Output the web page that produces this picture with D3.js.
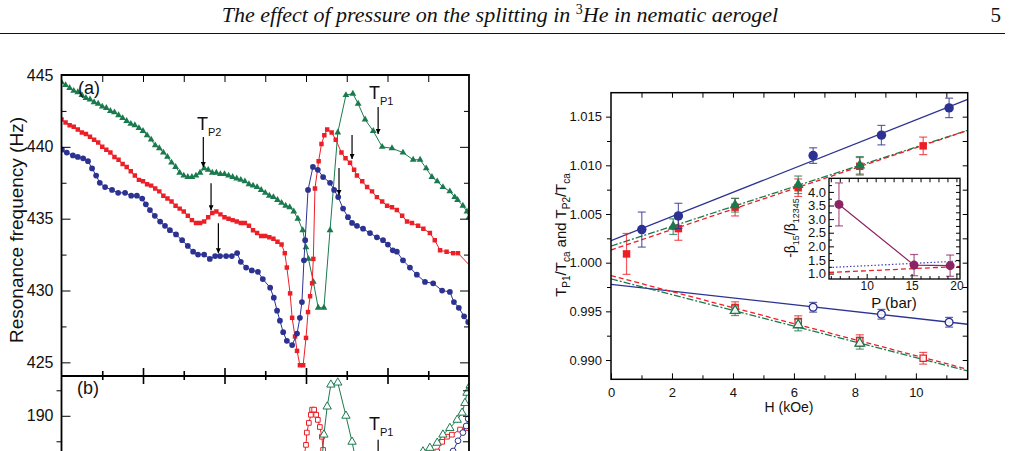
<!DOCTYPE html>
<html>
<head>
<meta charset="utf-8">
<script src="https://cdn.jsdelivr.net/npm/d3@7"></script>
<style>
  body { margin: 0; background: #fff; }
  text { fill: #111; }
</style>
</head>
<body>
<script>
// ---------- data: panel (a), resonance frequency (Hz) vs. sweep position ----------
const greenA = [[0,444.5],[0.1,444.3],[0.2,444.1],[0.3,443.9],[0.4,443.8],[0.5,443.6],[0.6,443.4],[0.7,443.3],[0.8,443.1],[0.9,443.0],
  [1.0,442.8],[1.1,442.7],[1.2,442.5],[1.3,442.4],[1.4,442.2],[1.5,442.0],[1.6,441.8],[1.7,441.6],[1.8,441.5],[1.9,441.3],
  [2.0,441.1],[2.1,440.8],[2.2,440.5],[2.3,440.1],[2.4,439.9],[2.5,439.6],[2.6,439.3],[2.7,438.9],[2.8,438.6],[2.9,438.2],
  [3.0,438.0],[3.1,437.9],[3.2,437.9],[3.3,438.0],[3.4,438.2],[3.5,438.5],[3.6,438.4],[3.7,438.2],[3.8,438.2],[3.9,438.1],
  [4.0,438.1],[4.1,438.0],[4.2,437.9],[4.3,437.8],[4.4,437.7],[4.5,437.6],[4.6,437.4],[4.7,437.3],[4.8,437.2],[4.9,437.0],
  [5.0,436.8],[5.1,436.6],[5.2,436.5],[5.3,436.3],[5.4,436.1],[5.5,435.9],[5.6,435.8],[5.7,435.5],[5.8,435.0],[5.92,434.2],
  [6.0,433.0],[6.06,432.2],[6.18,430.6],[6.3,428.8],[6.44,428.8],[6.59,434.2],[6.78,441.0],[6.98,443.6],[7.15,443.7],[7.28,443.0],
  [7.45,441.9],[7.65,441.1],[7.87,440.0],[8.11,439.9],[8.38,439.6],[8.63,439.1],[8.8,439.1],[8.95,438.5],[9.09,437.9],[9.22,437.6],
  [9.36,437.2],[9.53,436.9],[9.65,436.5],[9.72,436.3],[9.85,435.9],[9.95,435.5],[10.0,435.1]];

const redA = [[0,441.9],[0.1,441.7],[0.2,441.5],[0.3,441.4],[0.4,441.2],[0.5,441.0],[0.6,440.9],[0.7,440.7],[0.8,440.5],[0.9,440.3],
  [1.0,440.0],[1.1,439.8],[1.2,439.6],[1.3,439.3],[1.4,439.1],[1.5,438.8],[1.6,438.6],[1.7,438.3],[1.8,438.0],[1.9,437.7],
  [2.0,437.6],[2.1,437.4],[2.2,437.3],[2.3,437.1],[2.4,436.9],[2.5,436.6],[2.6,436.4],[2.7,436.2],[2.8,435.9],[2.9,435.7],
  [3.0,435.5],[3.1,435.2],[3.2,434.9],[3.3,434.7],[3.4,434.7],[3.5,434.8],[3.6,435.1],[3.7,435.4],[3.8,435.5],[3.9,435.3],
  [4.0,435.1],[4.1,435.0],[4.2,434.9],[4.3,434.8],[4.4,434.7],[4.5,434.7],[4.6,434.5],[4.7,434.2],[4.8,434.0],[4.9,433.8],
  [5.0,433.8],[5.1,433.7],[5.2,433.6],[5.3,433.4],[5.4,433.2],[5.48,432.6],[5.53,431.6],[5.61,429.8],[5.66,428.1],[5.73,426.8],
  [5.78,425.8],[5.85,424.8],[5.93,424.8],[6.0,426.7],[6.05,428.5],[6.1,429.6],[6.15,430.5],[6.18,432.2],[6.22,437.1],[6.31,439.0],
  [6.38,440.2],[6.45,440.8],[6.52,441.2],[6.63,441.0],[6.73,440.5],[6.87,439.6],[6.97,439.2],[7.08,438.9],[7.18,438.4],[7.25,438.0],
  [7.38,437.6],[7.5,437.2],[7.62,436.9],[7.74,436.5],[7.87,436.2],[7.99,435.9],[8.11,435.8],[8.23,435.6],[8.36,435.2],[8.48,434.8],
  [8.6,434.7],[8.75,434.5],[8.88,434.3],[9.04,434.0],[9.16,433.5],[9.29,432.8],[9.45,432.7],[9.61,432.6],[9.73,432.6],[10.2,431.2]];

const blueA = [[0.01,439.8],[0.13,439.6],[0.28,439.4],[0.40,439.3],[0.53,439.2],[0.65,439.0],[0.75,438.5],[0.85,438.0],[0.94,437.5],[1.07,437.2],
  [1.24,437.0],[1.39,436.8],[1.56,436.8],[1.71,436.6],[1.85,436.6],[1.98,436.4],[2.07,436.0],[2.17,435.6],[2.29,435.2],[2.42,434.8],
  [2.54,434.5],[2.66,434.2],[2.81,433.9],[2.96,433.5],[3.10,433.1],[3.23,432.7],[3.35,432.5],[3.50,432.5],[3.64,432.2],[3.77,432.4],
  [3.89,432.4],[4.04,432.4],[4.18,432.4],[4.31,432.6],[4.40,432.0],[4.53,431.6],[4.67,431.4],[4.82,431.3],[4.94,430.8],[5.12,430.2],
  [5.21,429.5],[5.29,428.6],[5.36,427.9],[5.44,427.1],[5.53,426.5],[5.66,426.2],[5.78,427.0],[5.85,428.1],[5.90,429.2],[5.95,432.1],
  [5.98,433.5],[6.05,437.0],[6.17,438.6],[6.29,438.4],[6.42,437.9],[6.59,437.5],[6.69,437.0],[6.79,436.5],[6.91,435.7],[7.03,435.1],
  [7.13,434.7],[7.25,434.5],[7.40,434.3],[7.57,434.0],[7.74,433.7],[7.89,433.5],[8.01,433.2],[8.13,432.8],[8.23,432.7],[8.38,432.1],
  [8.55,431.6],[8.72,431.1],[8.92,430.6],[9.12,430.5],[9.34,430.0],[9.53,429.9],[9.63,429.2],[9.75,428.8],[9.88,428.2],[9.98,427.8],
  [10.07,427.4]];

// ---------- data: panel (b), lower part, only the top of it is on the page ----------
const redB = [[5.93,181.0],[6.0,184.3],[6.02,186.7],[6.07,188.6],[6.12,190.2],[6.15,191.2],[6.2,191.2],[6.25,190.2],[6.29,189.2],
  [6.34,187.8],[6.39,185.9],[6.42,183.3],[6.46,180.5],[9.15,181.0],[9.22,183.0],[9.34,184.9],[9.46,185.9],[9.58,186.3],
  [9.78,187.3],[9.93,187.6],[10.07,187.9]];
const greenB = [[6.4,182.0],[6.44,186.3],[6.52,191.8],[6.61,196.1],[6.78,196.5],[6.98,190.0],[7.13,184.9],[7.23,181.0],
  [8.7,181.5],[8.87,183.0],[9.04,183.7],[9.22,184.7],[9.36,186.3],[9.53,187.6],[9.71,189.2],[9.83,190.6],[9.9,192.5],
  [9.95,194.5],[10.03,196.0]];
const blueB = [[9.5,181.0],[9.61,183.1],[9.73,185.1],[9.85,186.7],[9.93,188.0],[9.98,189.4],[10.07,191.0]];

// arrows in panel (a): [x, from, to]
const arrowsA = [[3.48,440.68,438.59],[3.67,437.47,435.59],[3.85,434.69,432.60],
  [7.77,442.77,440.89],[7.13,440.82,439.15],[6.81,438.52,436.64]];

// ---------- data: right panel, T/Tca vs H (kOe): [H, value, error] ----------
const tp1Blue  = [[1.01,1.0034,0.0018],[2.21,1.0048,0.0013],[6.63,1.0110,0.0008],[8.87,1.0131,0.0010],[11.09,1.0159,0.0010]];
const tp1Red   = [[0.51,1.0009,0.0021],[2.21,1.0035,0.0012],[4.07,1.0057,0.0009],[6.14,1.0077,0.0009],[8.16,1.0099,0.0009],[10.24,1.0120,0.0009]];
const tp1Green = [[2.04,1.0037,0.0008],[4.07,1.0059,0.0007],[6.14,1.0080,0.0009],[8.16,1.0100,0.0009]];
const tp2Blue  = [[6.63,0.99542,0.0005],[8.87,0.99470,0.0005],[11.09,0.99388,0.0005]];
const tp2Red   = [[4.07,0.99538,0.0006],[6.14,0.99394,0.0006],[8.16,0.99199,0.0006],[10.24,0.99018,0.0006]];
const tp2Green = [[4.07,0.99507,0.0005],[6.14,0.99360,0.0006],[8.16,0.99172,0.0006]];

// linear fits: [intercept, slope]
const fitBlue1 = [1.00226, 0.001241], fitGreen1 = [1.0017, 0.001017], fitRed1 = [1.0013, 0.00105];
const fitBlue2 = [0.99778, -0.000351], fitRed2 = [0.99867, -0.000822], fitGreen2 = [0.99833, -0.000808];

// inset: -beta15/beta12345 vs P (bar)
const insetP = [6.91, 15.28, 19.3];
const insetRatio = [3.54, 1.31, 1.29];
const insetErr = [0.79, 0.39, 0.39];
const insetBlueLine = [[5.8, 1.22], [20.4, 1.46]];
const insetRedLine = [[5.8, 1.04], [20.4, 1.26]];

// colours
const cGreen = "#1a7a4e", cRed = "#ec1f27", cBlue = "#2c3292", cPlum = "#8c2463";

const svg = d3.select("body").append("svg")
  .attr("width", 1010).attr("height", 451)
  .style("font-family", "'Liberation Sans', Arial, sans-serif");
const defs = svg.append("defs");

// ---------- page header ----------
const head = svg.append("text")
  .attr("x", 500).attr("y", 22).attr("text-anchor", "middle")
  .style("font-family", "'Liberation Serif', serif").style("font-style", "italic").style("font-size", "22px");
head.append("tspan").text("The effect of pressure on the splitting in ");
head.append("tspan").attr("dy", -8).style("font-style", "normal").style("font-size", "14px").text("3");
head.append("tspan").attr("dy", 8).text("He in nematic aerogel");
svg.append("text").attr("x", 1001).attr("y", 22).attr("text-anchor", "end")
  .style("font-family", "'Liberation Serif', serif").style("font-size", "21px").text("5");
svg.append("line").attr("x1", 0).attr("x2", 1005).attr("y1", 33.5).attr("y2", 33.5)
  .attr("stroke", "#111").attr("stroke-width", 1);

// arrow head
defs.append("marker").attr("id", "arr").attr("viewBox", "0 0 10 10")
  .attr("refX", 10).attr("refY", 5).attr("markerUnits", "userSpaceOnUse")
  .attr("markerWidth", 9).attr("markerHeight", 5).attr("orient", "auto")
  .append("path").attr("d", "M0,0L10,5L0,10z").attr("fill", "#000");

// ---------- left panel ----------
const xA = d3.scaleLinear().domain([0, 10]).range([61.5, 469]);
const yA = d3.scaleLinear().domain([424.05, 445]).range([376, 75]);
const yB = d3.scaleLinear().domain([180, 197.8]).range([466.8, 376]);

defs.append("clipPath").attr("id", "clipA").append("rect")
  .attr("x", xA(0)).attr("y", yA(445)).attr("width", xA(10) - xA(0)).attr("height", yA(424.05) - yA(445));
defs.append("clipPath").attr("id", "clipB").append("rect")
  .attr("x", xA(0)).attr("y", yB(197.8)).attr("width", xA(10) - xA(0)).attr("height", 100);

function noDomain(g) { g.select(".domain").remove(); }

function drawSeries(g, data, x, y, color, symbol, size, open) {
  g.append("path").datum(data)
    .attr("d", d3.line().x(d => x(d[0])).y(d => y(d[1])))
    .attr("fill", "none").attr("stroke", color).attr("stroke-width", 1);
  g.selectAll(null).data(data).enter().append("path")
    .attr("transform", d => `translate(${x(d[0])},${y(d[1])})`)
    .attr("d", d3.symbol().type(symbol).size(size))
    .attr("fill", open ? "#fff" : color)
    .attr("stroke", open ? color : "none").attr("stroke-width", 1);
}

const gA = svg.append("g").attr("clip-path", "url(#clipA)");
drawSeries(gA, greenA, xA, yA, cGreen, d3.symbolTriangle, 20, false);
drawSeries(gA, redA, xA, yA, cRed, d3.symbolSquare, 20, false);
drawSeries(gA, blueA, xA, yA, cBlue, d3.symbolCircle, 26, false);

const gB = svg.append("g").attr("clip-path", "url(#clipB)");
drawSeries(gB, redB, xA, yB, cRed, d3.symbolSquare, 22, true);
drawSeries(gB, greenB, xA, yB, cGreen, d3.symbolTriangle, 30, true);
drawSeries(gB, blueB, xA, yB, cBlue, d3.symbolCircle, 26, true);

// axes of (a)
svg.append("g").attr("transform", `translate(${xA(0)},0)`)
  .call(d3.axisLeft(yA).tickValues([425, 430, 435, 440, 445]).tickSizeInner(-9).tickSizeOuter(0).tickPadding(8))
  .call(noDomain).style("font-size", "16px");
svg.append("g").attr("transform", `translate(${xA(0)},0)`)
  .call(d3.axisLeft(yA).tickValues([427.5, 432.5, 437.5, 442.5]).tickSize(-5).tickFormat(""))
  .call(noDomain);
svg.append("g").attr("transform", `translate(${xA(10)},0)`)
  .call(d3.axisRight(yA).tickValues([425, 430, 435, 440]).tickSize(-9).tickFormat(""))
  .call(noDomain);
svg.append("g").attr("transform", `translate(${xA(10)},0)`)
  .call(d3.axisRight(yA).tickValues([427.5, 432.5, 437.5, 442.5]).tickSize(-5).tickFormat(""))
  .call(noDomain);
svg.append("g").attr("transform", `translate(0,${yA(445)})`)
  .call(d3.axisTop(xA).tickValues(d3.range(1, 10)).tickSize(-7).tickFormat(""))
  .call(noDomain);
// divider between (a) and (b)
const divY = yA(424.05);
[[d3.axisBottom, [2, 4, 6, 8], 8], [d3.axisTop, [2, 4, 6, 8], 8], [d3.axisBottom, [1, 3, 5, 7, 9], 4], [d3.axisTop, [1, 3, 5, 7, 9], 5]]
  .forEach(([ax, vals, len]) => {
    svg.append("g").attr("transform", `translate(0,${divY})`)
      .call(ax(xA).tickValues(vals).tickSize(len).tickFormat(""))
      .call(noDomain).selectAll("line").attr("stroke-width", 1.6);
  });
svg.append("line").attr("x1", xA(0)).attr("x2", xA(10)).attr("y1", divY).attr("y2", divY)
  .attr("stroke", "#000").attr("stroke-width", 2.2);
// axes of (b)
svg.append("g").attr("transform", `translate(${xA(0)},0)`)
  .call(d3.axisLeft(yB).tickValues([190]).tickSizeInner(-9).tickSizeOuter(0).tickPadding(8))
  .call(noDomain).style("font-size", "16px");
svg.append("g").attr("transform", `translate(${xA(0)},0)`)
  .call(d3.axisLeft(yB).tickValues([185, 195]).tickSize(5).tickFormat(""))
  .call(noDomain);
svg.append("g").attr("transform", `translate(${xA(10)},0)`)
  .call(d3.axisRight(yB).tickValues([185, 190, 195]).tickSize(-6).tickFormat(""))
  .call(noDomain);
// frame of left panel
svg.append("path")
  .attr("d", `M${xA(0)},451V${yA(445)}H${xA(10)}V451`)
  .attr("fill", "none").attr("stroke", "#000").attr("stroke-width", 1.8);

// arrows and labels in (a)/(b)
svg.append("g").selectAll("line").data(arrowsA).enter().append("line")
  .attr("x1", d => xA(d[0])).attr("x2", d => xA(d[0]))
  .attr("y1", d => yA(d[1])).attr("y2", d => yA(d[2]))
  .attr("stroke", "#000").attr("stroke-width", 1.2).attr("marker-end", "url(#arr)");
svg.append("line").attr("x1", xA(7.77)).attr("x2", xA(7.77))
  .attr("y1", yB(185.3)).attr("y2", yB(180)).attr("stroke", "#000").attr("stroke-width", 1.2)
  .attr("clip-path", "url(#clipB)");

function subText(parent, x, y, parts, size, subSize, shift, rotate) {
  const t = parent.append("text").attr("x", x).attr("y", y).style("font-size", size + "px");
  if (rotate) t.attr("transform", `rotate(-90,${x},${y})`).attr("text-anchor", "middle");
  let cur = 0;
  parts.forEach(([s, kind]) => {
    const target = kind === 1 ? shift : 0;
    t.append("tspan").attr("dy", target - cur)
      .style("font-size", (kind === 1 ? subSize : size) + "px").text(s);
    cur = target;
  });
  return t;
}

svg.append("text").attr("x", 78).attr("y", 94).style("font-size", "18px").text("(a)");
svg.append("text").attr("x", 77).attr("y", 394).style("font-size", "18px").text("(b)");
subText(svg, 197, 130, [["T", 0], ["P2", 1]], 18, 11, 6);
subText(svg, 369, 99, [["T", 0], ["P1", 1]], 18, 11, 6);
subText(svg, 369, 430, [["T", 0], ["P1", 1]], 18, 11, 6);
svg.append("text").attr("transform", "translate(23,230) rotate(-90)").attr("text-anchor", "middle")
  .style("font-size", "19px").text("Resonance frequency (Hz)");

// ---------- right panel ----------
const xR = d3.scaleLinear().domain([0, 11.7]).range([611, 967.7]);
const yR = d3.scaleLinear().domain([0.98802, 1.01746]).range([379.3, 92.7]);
const gR = svg.append("g");
defs.append("clipPath").attr("id", "clipR").append("rect")
  .attr("x", xR(0)).attr("y", yR(1.01746)).attr("width", xR(11.7) - xR(0)).attr("height", yR(0.98802) - yR(1.01746));

const fits = [[fitBlue1, cBlue, null], [fitGreen1, cGreen, "7,2,2,2"], [fitRed1, cRed, "5,3"],
  [fitBlue2, cBlue, null], [fitGreen2, cGreen, "7,2,2,2"], [fitRed2, cRed, "5,3"]];
const fitLine = d3.line().x(d => xR(d[0])).y(d => yR(d[1]));
fits.forEach(([f, col, dash]) => {
  gR.append("path").datum([0, 11.7].map(h => [h, f[0] + f[1] * h]))
    .attr("d", fitLine).attr("fill", "none").attr("stroke", col).attr("stroke-width", 1.3)
    .attr("stroke-dasharray", dash).attr("clip-path", "url(#clipR)");
});

function errPoints(g, data, x, y, color, symbol, size, open) {
  const e = g.append("g").attr("stroke", color).attr("stroke-opacity", 0.75).attr("stroke-width", 1.2);
  data.forEach(d => {
    const x0 = x(d[0]), y1 = y(d[1] + d[2]), y2 = y(d[1] - d[2]);
    e.append("line").attr("x1", x0).attr("x2", x0).attr("y1", y1).attr("y2", y2);
    e.append("line").attr("x1", x0 - 4).attr("x2", x0 + 4).attr("y1", y1).attr("y2", y1);
    e.append("line").attr("x1", x0 - 4).attr("x2", x0 + 4).attr("y1", y2).attr("y2", y2);
  });
  g.selectAll(null).data(data).enter().append("path")
    .attr("transform", d => `translate(${x(d[0])},${y(d[1])})`)
    .attr("d", d3.symbol().type(symbol).size(size))
    .attr("fill", open ? "#fff" : color).attr("fill-opacity", open ? 0.9 : 1)
    .attr("stroke", open ? color : "none").attr("stroke-width", 1.3);
}
errPoints(gR, tp1Red, xR, yR, cRed, d3.symbolSquare, 56, false);
errPoints(gR, tp1Green, xR, yR, cGreen, d3.symbolTriangle, 50, false);
errPoints(gR, tp1Blue, xR, yR, cBlue, d3.symbolCircle, 70, false);
errPoints(gR, tp2Red, xR, yR, cRed, d3.symbolSquare, 40, true);
errPoints(gR, tp2Green, xR, yR, cGreen, d3.symbolTriangle, 40, true);
errPoints(gR, tp2Blue, xR, yR, cBlue, d3.symbolCircle, 48, true);

// axes of right panel
const yMaj = [0.990, 0.995, 1.000, 1.005, 1.010, 1.015];
const yMin = [0.9925, 0.9975, 1.0025, 1.0075, 1.0125];
svg.append("g").attr("transform", `translate(0,${yR(0.98802)})`)
  .call(d3.axisBottom(xR).tickValues([0, 2, 4, 6, 8, 10]).tickSizeInner(-6).tickSizeOuter(0).tickPadding(8))
  .call(noDomain).style("font-size", "13px");
svg.append("g").attr("transform", `translate(0,${yR(0.98802)})`)
  .call(d3.axisBottom(xR).tickValues([1, 3, 5, 7, 9, 11]).tickSize(-4).tickFormat("")).call(noDomain);
svg.append("g").attr("transform", `translate(0,${yR(1.01746)})`)
  .call(d3.axisTop(xR).tickValues(d3.range(1, 12)).tickSize(-5).tickFormat("")).call(noDomain);
svg.append("g").attr("transform", `translate(${xR(0)},0)`)
  .call(d3.axisLeft(yR).tickValues(yMaj).tickSizeInner(5).tickSizeOuter(0).tickPadding(4).tickFormat(d3.format(".3f")))
  .call(noDomain).style("font-size", "13px");
svg.append("g").attr("transform", `translate(${xR(0)},0)`)
  .call(d3.axisLeft(yR).tickValues(yMin).tickSize(4).tickFormat("")).call(noDomain);
svg.append("g").attr("transform", `translate(${xR(11.7)},0)`)
  .call(d3.axisRight(yR).tickValues(yMaj.concat(yMin)).tickSize(-5).tickFormat("")).call(noDomain);
svg.append("rect").attr("x", xR(0)).attr("y", yR(1.01746))
  .attr("width", xR(11.7) - xR(0)).attr("height", yR(0.98802) - yR(1.01746))
  .attr("fill", "none").attr("stroke", "#000").attr("stroke-width", 1.5);

svg.append("text").attr("x", 789).attr("y", 412).attr("text-anchor", "middle").style("font-size", "14px").text("H (kOe)");
subText(svg, 566, 235, [["T", 0], ["P1", 1], ["/T", 0], ["ca", 1], [" and T", 0], ["P2", 1], ["/T", 0], ["ca", 1]], 15, 10, 4, true);

// ---------- inset ----------
const xI = d3.scaleLinear().domain([5.8, 20.4]).range([829, 960]);
const yI = d3.scaleLinear().domain([0.8, 4.5]).range([279, 178.3]);
const gI = svg.append("g");
gI.append("rect").attr("x", xI(5.8)).attr("y", yI(4.5)).attr("width", xI(20.4) - xI(5.8)).attr("height", yI(0.8) - yI(4.5))
  .attr("fill", "#fff");
const lineI = d3.line().x(d => xI(d[0])).y(d => yI(d[1]));
gI.append("path").datum(insetBlueLine).attr("d", lineI).attr("fill", "none")
  .attr("stroke", "#3a43b8").attr("stroke-width", 1.2).attr("stroke-dasharray", "1.5,2");
gI.append("path").datum(insetRedLine).attr("d", lineI).attr("fill", "none")
  .attr("stroke", cRed).attr("stroke-width", 1.3).attr("stroke-dasharray", "5,3");
const insetPts = insetP.map((p, i) => [p, insetRatio[i], insetErr[i]]);
gI.append("path").datum(insetPts).attr("d", lineI).attr("fill", "none").attr("stroke", cPlum).attr("stroke-width", 1.2);
errPoints(gI, insetPts, xI, yI, cPlum, d3.symbolCircle, 64, false);

svg.append("g").attr("transform", `translate(0,${yI(0.8)})`)
  .call(d3.axisBottom(xI).tickValues([10, 15, 20]).tickSizeInner(-5).tickSizeOuter(0).tickPadding(2))
  .call(noDomain).style("font-size", "12px");
svg.append("g").attr("transform", `translate(0,${yI(0.8)})`)
  .call(d3.axisBottom(xI).tickValues(d3.range(6, 21).filter(v => v % 5)).tickSize(-3).tickFormat("")).call(noDomain);
svg.append("g").attr("transform", `translate(0,${yI(4.5)})`)
  .call(d3.axisTop(xI).tickValues(d3.range(6, 21)).tickSize(-4).tickFormat("")).call(noDomain);
svg.append("g").attr("transform", `translate(${xI(5.8)},0)`)
  .call(d3.axisLeft(yI).tickValues(d3.range(1, 4.01, 0.5)).tickSizeInner(-5).tickSizeOuter(0).tickPadding(3).tickFormat(d3.format(".1f")))
  .call(noDomain).style("font-size", "13px");
svg.append("g").attr("transform", `translate(${xI(5.8)},0)`)
  .call(d3.axisLeft(yI).tickValues(d3.range(1.25, 4.5, 0.5)).tickSize(-3).tickFormat("")).call(noDomain);
svg.append("g").attr("transform", `translate(${xI(20.4)},0)`)
  .call(d3.axisRight(yI).tickValues(d3.range(1, 4.5, 0.25)).tickSize(-4).tickFormat("")).call(noDomain);
svg.append("rect").attr("x", xI(5.8)).attr("y", yI(4.5)).attr("width", xI(20.4) - xI(5.8)).attr("height", yI(0.8) - yI(4.5))
  .attr("fill", "none").attr("stroke", "#000").attr("stroke-width", 1.3);
svg.append("text").attr("x", 894).attr("y", 308).attr("text-anchor", "middle").style("font-size", "15px").text("P (bar)");
subText(svg, 795, 228, [["-\u03b2", 0], ["15", 1], ["/\u03b2", 0], ["12345", 1]], 14, 9, 4, true);
</script>
</body>
</html>
